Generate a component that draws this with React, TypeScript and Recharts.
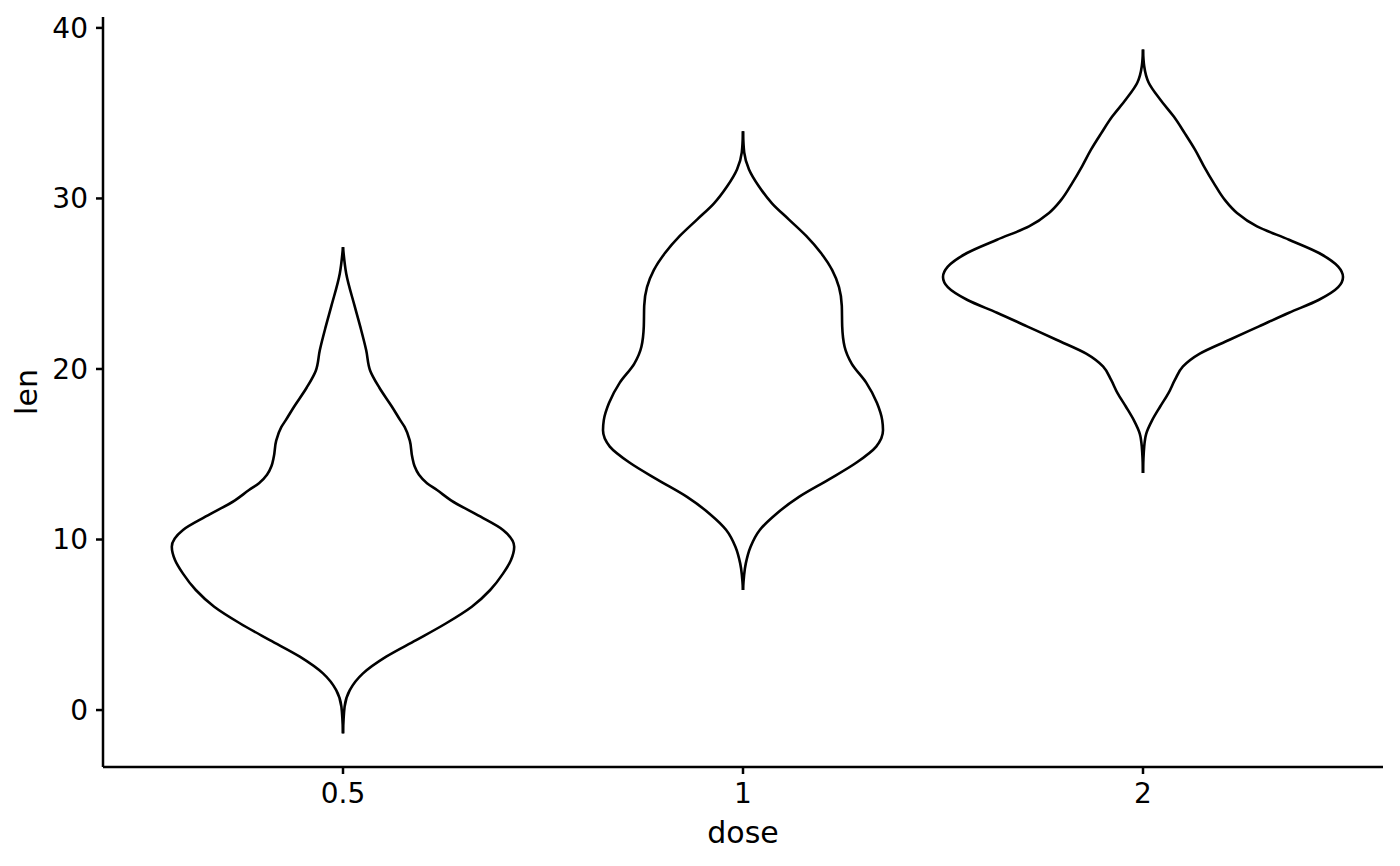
import React from "react";
import { ScatterChart, Scatter, XAxis, YAxis, Label } from "recharts";

// x categories
const doseLabels = ["0.5", "1", "2"];
const yTicks = [0, 10, 20, 30, 40];

// violin outlines: len level + half width (in category slots)
const lenDose05 = [-1.37, 0.2, 1.17, 2.15, 3.13, 4.1, 5.09, 6.06, 7.04, 8.0, 8.8, 9.58, 10.56, 11.35, 12.3, 12.9, 13.3, 13.8, 14.3, 14.85, 15.8, 16.6, 17.0, 17.8, 18.9, 19.9, 21.1, 22.5, 23.7, 25.6, 27.15];
const widthDose05 = [0, 0.004, 0.017, 0.05, 0.108, 0.183, 0.258, 0.322, 0.368, 0.4, 0.42, 0.428, 0.4, 0.343, 0.27, 0.235, 0.21, 0.19, 0.179, 0.173, 0.167, 0.154, 0.143, 0.122, 0.091, 0.068, 0.058, 0.043, 0.029, 0.008, 0];

const lenDose1 = [7.04, 8.6, 9.58, 10.56, 11.5, 12.5, 13.5, 14.5, 15.45, 16.4, 17.0, 18.0, 19.2, 20.3, 21.3, 22.5, 23.7, 24.8, 25.8, 26.8, 27.8, 28.76, 29.7, 30.7, 31.7, 32.7, 33.94];
const widthDose1 = [0, 0.007, 0.019, 0.042, 0.083, 0.14, 0.213, 0.283, 0.333, 0.35, 0.348, 0.335, 0.308, 0.272, 0.254, 0.248, 0.247, 0.24, 0.223, 0.195, 0.158, 0.115, 0.073, 0.04, 0.015, 0.003, 0];

const lenDose2 = [13.9, 15.45, 16.2, 17.0, 17.8, 18.6, 19.37, 20.15, 20.9, 21.7, 22.5, 23.3, 24.06, 24.8, 25.4, 26.0, 26.8, 27.58, 28.36, 29.15, 29.9, 30.9, 31.9, 32.86, 33.8, 34.8, 35.8, 36.8, 37.75, 38.73];
const widthDose2 = [0, 0.003, 0.008, 0.023, 0.043, 0.064, 0.08, 0.1, 0.142, 0.215, 0.29, 0.365, 0.44, 0.488, 0.5, 0.488, 0.44, 0.365, 0.285, 0.235, 0.205, 0.177, 0.152, 0.13, 0.105, 0.077, 0.043, 0.014, 0.003, 0];

const violins = [
  { lens: lenDose05, widths: widthDose05 },
  { lens: lenDose1, widths: widthDose1 },
  { lens: lenDose2, widths: widthDose2 },
];

const font = "DejaVu Sans";

// one side of a violin as x/y points, x centred on the category slot
const side = (slot: number, lens: number[], widths: number[], sign: number) =>
  lens.map((len, i) => ({ x: slot + sign * widths[i], y: len }));

const NoDot = () => <g />;

const YTitle = (props: any) => {
  const vb = props.viewBox || { x: 0, y: 17, width: 103, height: 750 };
  const x = vb.x + 37;
  const y = vb.y + vb.height / 2;
  return (
    <text
      x={x}
      y={y}
      transform={`rotate(-90 ${x} ${y})`}
      textAnchor="middle"
      fontSize={30}
      fontFamily={font}
      fill="#000"
    >
      len
    </text>
  );
};

const App: React.FC = () => {
  return (
    <div style={{ position: "absolute", left: 0, top: 0, background: "#fff" }}>
      <ScatterChart width={1400} height={866} margin={{ top: 17, right: 17, bottom: 19, left: 0 }}>
        <XAxis
          type="number"
          dataKey="x"
          domain={[0.4, 3.6]}
          ticks={[1, 2, 3]}
          tickFormatter={(v: number) => doseLabels[v - 1]}
          allowDataOverflow
          height={80}
          axisLine={{ stroke: "#000", strokeWidth: 2.5 }}
          tickLine={{ stroke: "#000", strokeWidth: 2.5 }}
          tickSize={7}
          tickMargin={9}
          tick={{ fontSize: 28, fill: "#000", fontFamily: font }}
        >
          <Label value="dose" position="insideBottom" offset={4} fontSize={30} fontFamily={font} fill="#000" />
        </XAxis>
        <YAxis
          type="number"
          dataKey="y"
          domain={[-3.34, 40.64]}
          ticks={yTicks}
          allowDataOverflow
          width={103}
          axisLine={{ stroke: "#000", strokeWidth: 2.5 }}
          tickLine={{ stroke: "#000", strokeWidth: 2.5 }}
          tickSize={7}
          tickMargin={8}
          tick={{ fontSize: 28, fill: "#000", fontFamily: font }}
        >
          <Label content={<YTitle />} />
        </YAxis>
        {violins.flatMap((v, i) =>
          [1, -1].map((sign) => (
            <Scatter
              key={`${i}-${sign}`}
              data={side(i + 1, v.lens, v.widths, sign)}
              line={{ stroke: "#000", strokeWidth: 2.6 }}
              lineType="joint"
              lineJointType="monotoneY"
              shape={<NoDot />}
              legendType="none"
              isAnimationActive={false}
            />
          ))
        )}
      </ScatterChart>
    </div>
  );
};

export default App;
